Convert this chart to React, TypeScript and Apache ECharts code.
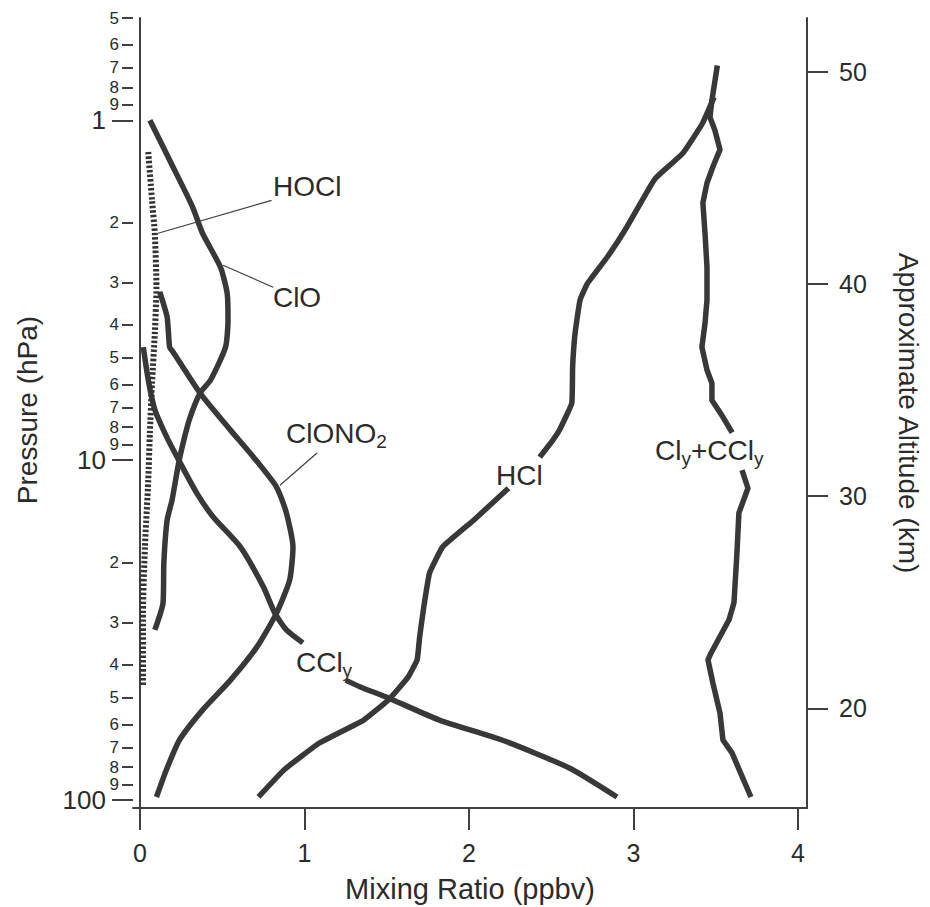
import React, { useEffect, useRef } from 'react';
import * as echarts from 'echarts';

// ---- tick values ----
const xTicks = [0, 1, 2, 3, 4];
const pressureMinorTicks = [0.5, 0.6, 0.7, 0.8, 0.9, 2, 3, 4, 5, 6, 7, 8, 9, 20, 30, 40, 50, 60, 70, 80, 90];
const pressureMajorTicks = [1, 10, 100];
const altitudeTicks = [20, 30, 40, 50];

// ---- profiles: [mixing ratio (ppbv), pressure (hPa)]; null = gap behind a label ----
const clo = [[0.06, 1.0], [0.2, 1.37], [0.32, 1.8], [0.38, 2.15], [0.49, 2.71], [0.53, 3.23], [0.535, 3.87], [0.52, 4.65], [0.43, 5.8], [0.365, 6.35], [0.3, 7.6], [0.255, 9.2], [0.23, 10.5], [0.195, 13.1], [0.165, 15], [0.145, 20], [0.14, 26.3], [0.09, 31.6]];
const clono2 = [[0.12, 3.2], [0.165, 3.8], [0.18, 4.65], [0.2, 4.8], [0.365, 6.35], [0.55, 8.16], [0.69, 9.8], [0.83, 12.0], [0.89, 14.3], [0.93, 18.0], [0.91, 22.5], [0.83, 28.2], [0.71, 35.5], [0.55, 44.4], [0.38, 54.4], [0.24, 66.6], [0.16, 81.6], [0.1, 98]];
const ccly = [[0.02, 4.65], [0.05, 5.8], [0.09, 7.1], [0.165, 8.6], [0.245, 10.2], [0.345, 12.5], [0.445, 14.7], [0.61, 18.0], [0.75, 23.6], [0.82, 28.2], [0.89, 31.6], [0.99, 34.5], null, [1.25, 44.4], [1.34, 46.5], [1.51, 50.1], [1.82, 58.2], [2.2, 66.6], [2.61, 80.5], [2.9, 98]];
const hcl = [[3.49, 0.855], [3.42, 1.02], [3.3, 1.25], [3.14, 1.47], [3.1, 1.57], [2.96, 2.06], [2.84, 2.53], [2.72, 3.02], [2.675, 3.38], [2.645, 4.23], [2.63, 5.33], [2.625, 6.8], [2.55, 8.16], [2.51, 8.73], [2.43, 9.8], null, [2.24, 12.1], [2.03, 15.0], [1.84, 18.0], [1.76, 21.5], [1.725, 27.1], [1.7, 33.2], [1.685, 38.7], [1.63, 43.5], [1.51, 50.8], [1.36, 58.2], [1.09, 68.0], [0.875, 81.6], [0.72, 98]];
const clyPlusCcly = [[3.51, 0.69], [3.477, 0.873], [3.465, 0.98], [3.495, 1.07], [3.526, 1.22], [3.483, 1.37], [3.447, 1.53], [3.422, 1.75], [3.435, 2.15], [3.447, 2.71], [3.447, 3.38], [3.435, 3.96], [3.416, 4.65], [3.447, 5.43], [3.477, 5.94], [3.477, 6.66], [3.544, 7.47], [3.6, 8.3], null, [3.66, 10.7], [3.696, 12.1], [3.641, 14.3], [3.629, 18.8], [3.611, 26.3], [3.581, 29.5], [3.471, 37.0], [3.453, 38.7], [3.483, 45.3], [3.526, 55.5], [3.544, 66.6], [3.599, 72.7], [3.714, 98]];
const hocl = [[0.05, 1.24], [0.073, 1.72], [0.09, 2.15], [0.1, 3.1], [0.09, 4.23], [0.073, 5.94], [0.06, 8.33], [0.05, 11.5], [0.03, 18.0], [0.018, 28.2], [0.018, 46.5]];

// leader lines from labels to curves
const hoclLeader = [[0.8, 1.72], [0.11, 2.15]];
const cloLeader = [[0.81, 3.1], [0.505, 2.67]];
const clono2Leader = [[1.076, 9.53], [0.851, 11.85]];

// curve labels: parts [text, isSubscript], anchored at left-middle
const curveLabels = [
  { parts: [['HOCl', false]], x: 0.808, p: 1.57 },
  { parts: [['ClO', false]], x: 0.808, p: 3.32 },
  { parts: [['ClONO', false], ['2', true]], x: 0.888, p: 8.33 },
  { parts: [['CCl', false], ['y', true]], x: 0.948, p: 39.5 },
  { parts: [['HCl', false]], x: 2.164, p: 11.07 },
  { parts: [['Cl', false], ['y', true], ['+CCl', false], ['y', true]], x: 3.131, p: 9.35 },
];

const FONT = '"Liberation Sans", Arial, Helvetica, sans-serif';
const INK = '#2b2b2b';
const LINE = '#383838';
const AXIS = '#404040';

const P_MIN = 0.5;
const P_MAX = 105.6;
const LMIN = Math.log10(P_MIN);
const LMAX = Math.log10(P_MAX);

function toSeriesData(arr: any[]) {
  return arr.map((d) => (d === null ? ['-', '-'] : d));
}

function curve(name: string, data: any[], extra: any = {}) {
  return {
    name,
    type: 'line',
    data: toSeriesData(data),
    showSymbol: false,
    symbol: 'none',
    smooth: 0.2,
    connectNulls: false,
    xAxisIndex: 0,
    yAxisIndex: 0,
    lineStyle: { color: LINE, width: 5.5, cap: 'butt', join: 'round' },
    silent: true,
    ...extra,
  };
}

function leader(name: string, data: any[]) {
  return {
    name,
    type: 'line',
    data,
    showSymbol: false,
    symbol: 'none',
    xAxisIndex: 0,
    yAxisIndex: 0,
    lineStyle: { color: AXIS, width: 1.2 },
    silent: true,
  };
}

export default function App() {
  const ref = useRef<HTMLDivElement>(null);

  useEffect(() => {
    const el = ref.current;
    if (!el) return;
    const chart = echarts.init(el, null, { renderer: 'svg' });

    const option: any = {
      animation: false,
      backgroundColor: '#ffffff',
      grid: { left: 133, top: 18, width: 674, height: 790, containLabel: false },
      xAxis: {
        type: 'value',
        min: -0.0426,
        max: 4.055,
        position: 'bottom',
        axisLine: { show: true, onZero: false, lineStyle: { color: AXIS, width: 2 } },
        axisTick: { show: true, customValues: xTicks, length: 22, lineStyle: { color: AXIS, width: 2 } },
        axisLabel: { show: true, customValues: xTicks, margin: 32, fontSize: 25, color: INK, fontFamily: FONT },
        splitLine: { show: false },
      },
      yAxis: [
        {
          type: 'log',
          logBase: 10,
          min: P_MIN,
          max: P_MAX,
          inverse: true,
          position: 'left',
          axisLine: { show: true, lineStyle: { color: AXIS, width: 2 } },
          axisTick: { show: false },
          axisLabel: { show: false },
          splitLine: { show: false },
        },
        {
          type: 'value',
          min: LMIN,
          max: LMAX,
          inverse: true,
          position: 'left',
          axisLine: { show: false },
          axisTick: { show: true, customValues: pressureMinorTicks.map((v) => Math.log10(v)), length: 11, lineStyle: { color: AXIS, width: 2 } },
          axisLabel: {
            show: true,
            customValues: pressureMinorTicks.map((v) => Math.log10(v)),
            margin: 14,
            fontSize: 17,
            color: INK,
            fontFamily: FONT,
            formatter: (v: number) => String(Math.round(Math.pow(10, v - Math.floor(v + 1e-9)))),
          },
          splitLine: { show: false },
        },
        {
          type: 'value',
          min: LMIN,
          max: LMAX,
          inverse: true,
          position: 'left',
          axisLine: { show: false },
          axisTick: { show: true, customValues: pressureMajorTicks.map((v) => Math.log10(v)), length: 21, lineStyle: { color: AXIS, width: 2 } },
          axisLabel: {
            show: true,
            customValues: pressureMajorTicks.map((v) => Math.log10(v)),
            margin: 27,
            fontSize: 26,
            color: INK,
            fontFamily: FONT,
            formatter: (v: number) => String(Math.round(Math.pow(10, v))),
          },
          splitLine: { show: false },
        },
        {
          type: 'value',
          min: 15.3,
          max: 52.55,
          position: 'right',
          axisLine: { show: true, lineStyle: { color: AXIS, width: 2 } },
          axisTick: { show: true, customValues: altitudeTicks, length: 21, lineStyle: { color: AXIS, width: 2 } },
          axisLabel: { show: true, customValues: altitudeTicks, margin: 32, fontSize: 25, color: INK, fontFamily: FONT },
          splitLine: { show: false },
        },
      ],
      series: [
        curve('ClO', clo),
        curve('ClONO2', clono2),
        curve('CCly', ccly),
        curve('HCl', hcl, { smooth: 0.1 }),
        curve('Cly+CCly', clyPlusCcly, { smooth: false }),
        curve('HOCl', hocl, { lineStyle: { color: '#333', width: 6, type: [2.5, 2], cap: 'butt' } }),
        leader('HOCl leader', hoclLeader),
        leader('ClO leader', cloLeader),
        leader('ClONO2 leader', clono2Leader),
      ],
      graphic: [],
    };

    chart.setOption(option);

    // measure text widths for subscript placement
    const canvas = document.createElement('canvas');
    const ctx = canvas.getContext('2d')!;
    const MAIN_SIZE = 28;
    const SUB_SIZE = 19;

    const labelGraphics: any[] = [];
    curveLabels.forEach((lab) => {
      const pt = chart.convertToPixel({ xAxisIndex: 0, yAxisIndex: 0 }, [lab.x, lab.p]) as number[];
      let cx = pt[0];
      const cy = pt[1];
      lab.parts.forEach(([t, sub]: any) => {
        const size = sub ? SUB_SIZE : MAIN_SIZE;
        ctx.font = `${size}px ${FONT}`;
        const w = ctx.measureText(t).width;
        labelGraphics.push({
          type: 'text',
          x: cx,
          y: sub ? cy + 8 : cy,
          silent: true,
          style: { text: t, fontSize: size, fontFamily: FONT, fill: INK, align: 'left', verticalAlign: 'middle' },
        });
        cx += w;
      });
    });

    const titles = [
      {
        type: 'text',
        x: 470,
        y: 889,
        silent: true,
        style: { text: 'Mixing Ratio (ppbv)', fontSize: 29, fontFamily: FONT, fill: INK, align: 'center', verticalAlign: 'middle' },
      },
      {
        type: 'text',
        x: 27,
        y: 410,
        rotation: Math.PI / 2,
        silent: true,
        style: { text: 'Pressure (hPa)', fontSize: 28, fontFamily: FONT, fill: INK, align: 'center', verticalAlign: 'middle' },
      },
      {
        type: 'text',
        x: 908,
        y: 413,
        rotation: -Math.PI / 2,
        silent: true,
        style: { text: 'Approximate Altitude (km)', fontSize: 28, fontFamily: FONT, fill: INK, align: 'center', verticalAlign: 'middle' },
      },
    ];

    chart.setOption({ graphic: [...titles, ...labelGraphics] });

    return () => {
      chart.dispose();
    };
  }, []);

  return (
    <div
      ref={ref}
      style={{ position: 'fixed', left: 0, top: 0, width: 930, height: 907, background: '#ffffff' }}
    />
  );
}
